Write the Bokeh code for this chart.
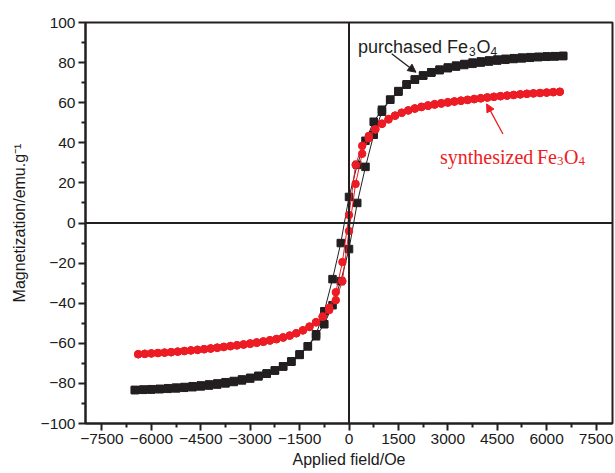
from bokeh.plotting import figure
from bokeh.models import Range1d, FixedTicker, Span, Label, Arrow, NormalHead, CustomJSTickFormatter
from bokeh.embed import file_html
from bokeh.resources import INLINE

# ---------------- data ----------------
black_H = [-6500, -6250, -6000, -5750, -5500, -5250, -5000, -4750, -4500, -4250, -4000, -3750, -3500,
           -3250, -3000, -2750, -2500, -2250, -2000, -1750, -1500, -1250, -1000, -750, -500, -250, 0,
           250, 500, 750, 1000, 1250, 1500, 1750, 2000, 2250, 2500, 2750, 3000, 3250, 3500, 3750,
           4000, 4250, 4500, 4750, 5000, 5250, 5500, 5750, 6000, 6250, 6500]
# branch measured while field decreases (upper)
black_upper = [-83.3, -83.1, -82.9, -82.7, -82.4, -82.1, -81.8, -81.4, -81.0, -80.5, -80.0, -79.4, -78.8,
               -78.0, -77.2, -76.2, -75.0, -73.5, -71.6, -69.2, -65.8, -61.5, -55.5, -44.0, -28.0, -10.0, 13.0,
               29.0, 41.0, 50.5, 56.5, 61.5, 65.5, 69.0, 71.5, 73.6, 75.2, 76.5, 77.6, 78.5, 79.3, 80.0,
               80.6, 81.1, 81.5, 81.9, 82.2, 82.5, 82.7, 82.9, 83.1, 83.2, 83.3]
# branch measured while field increases (lower)
black_lower = [-83.3, -83.2, -83.1, -82.9, -82.7, -82.5, -82.2, -81.9, -81.5, -81.1, -80.6, -80.0, -79.3,
               -78.5, -77.6, -76.5, -75.2, -73.6, -71.5, -69.0, -65.5, -61.5, -56.5, -50.5, -41.0, -29.0, -13.0,
               10.0, 28.0, 44.0, 55.5, 61.5, 65.8, 69.2, 71.6, 73.5, 75.0, 76.2, 77.2, 78.0, 78.8, 79.4,
               80.0, 80.5, 81.0, 81.4, 81.8, 82.1, 82.4, 82.7, 82.9, 83.1, 83.3]

red_H = [-6400, -6200, -6000, -5800, -5600, -5400, -5200, -5000, -4800, -4600, -4400, -4200, -4000,
         -3800, -3600, -3400, -3200, -3000, -2800, -2600, -2400, -2200, -2000, -1800, -1600, -1400,
         -1200, -1000, -800, -600, -400, -200, 0, 200, 400, 600, 800, 1000, 1200, 1400, 1600, 1800,
         2000, 2200, 2400, 2600, 2800, 3000, 3200, 3400, 3600, 3800, 4000, 4200, 4400, 4600, 4800,
         5000, 5200, 5400, 5600, 5800, 6000, 6200, 6400]
red_upper = [-65.4, -65.2, -65.0, -64.8, -64.6, -64.4, -64.1, -63.8, -63.5, -63.2, -62.9, -62.5, -62.1,
             -61.7, -61.3, -60.9, -60.5, -60.0, -59.5, -59.0, -58.4, -57.8, -57.0, -56.1, -55.0, -53.6,
             -51.9, -49.6, -46.6, -42.3, -34.5, -19.5, 4.0, 29.0, 38.5, 43.4, 46.8, 49.4, 51.6, 53.5, 55.0,
             56.2, 57.2, 58.0, 58.7, 59.3, 59.8, 60.3, 60.7, 61.1, 61.5, 61.9, 62.3, 62.7, 63.0, 63.3,
             63.6, 63.9, 64.2, 64.5, 64.7, 64.9, 65.1, 65.3, 65.5]
red_lower = [-65.5, -65.3, -65.1, -64.9, -64.7, -64.5, -64.2, -63.9, -63.6, -63.3, -63.0, -62.7, -62.3,
             -61.9, -61.5, -61.1, -60.7, -60.3, -59.8, -59.3, -58.7, -58.0, -57.2, -56.2, -55.0, -53.5,
             -51.6, -49.4, -46.8, -43.4, -38.5, -29.0, -4.0, 19.5, 34.5, 42.3, 46.6, 49.6, 51.9, 53.6, 55.0,
             56.1, 57.0, 57.8, 58.4, 59.0, 59.5, 60.0, 60.5, 60.9, 61.3, 61.7, 62.1, 62.5, 62.9, 63.2,
             63.5, 63.8, 64.1, 64.4, 64.6, 64.8, 65.0, 65.2, 65.4]

x_ticks = [-7500, -6000, -4500, -3000, -1500, 0, 1500, 3000, 4500, 6000, 7500]
x_tick_labels = ["\u22127500", "\u22126000", "\u22124500", "\u22123000", "\u22121500", "0",
                 "1500", "3000", "4500", "6000", "7500"]
x_minor = [-8250, -6750, -5250, -3750, -2250, -750, 750, 2250, 3750, 5250, 6750]
y_ticks = [-100, -80, -60, -40, -20, 0, 20, 40, 60, 80, 100]
y_tick_labels = ["\u2212100", "\u221280", "\u221260", "\u221240", "\u221220", "0",
                 "20", "40", "60", "80", "100"]
y_minor = [-90, -70, -50, -30, -10, 10, 30, 50, 70, 90]

BLACK = "#231f20"
RED = "#ed1c24"
SANS = "Liberation Sans"
SERIF = "Liberation Serif"

p = figure(width=615, height=473, output_backend="svg", toolbar_location=None,
           x_range=Range1d(-8000, 8000), y_range=Range1d(-100, 100),
           min_border_left=85, min_border_right=3, min_border_top=22, min_border_bottom=50)
p.grid.visible = False
p.outline_line_color = BLACK
p.outline_line_width = 2
p.background_fill_color = "white"
p.border_fill_color = "white"

for ax, ticks, minor, labels in ((p.xaxis[0], x_ticks, x_minor, x_tick_labels),
                                 (p.yaxis[0], y_ticks, y_minor, y_tick_labels)):
    ax.ticker = FixedTicker(ticks=ticks, minor_ticks=minor)
    ax.formatter = CustomJSTickFormatter(args=dict(vals=ticks, labs=labels),
                                         code="const i = vals.indexOf(tick); return i >= 0 ? labs[i] : '';")
    ax.axis_line_width = 2
    ax.axis_line_color = BLACK
    ax.major_tick_line_color = BLACK
    ax.minor_tick_line_color = BLACK
    ax.major_tick_line_width = 2
    ax.minor_tick_line_width = 2
    ax.major_tick_in = 0
    ax.major_tick_out = 7
    ax.minor_tick_in = 0
    ax.minor_tick_out = 4
    ax.major_label_text_font = SANS
    ax.major_label_text_font_size = "15.5px"
    ax.major_label_text_color = "#1a1a1a"

p.xaxis.major_label_standoff = 3
p.yaxis.major_label_standoff = 3
p.xaxis.axis_label = "Applied field/Oe"
p.yaxis.axis_label = "Magnetization/emu.g\u207b\u00b9"
for ax in (p.xaxis[0], p.yaxis[0]):
    ax.axis_label_text_font = SANS
    ax.axis_label_text_font_size = "16px"
    ax.axis_label_text_font_style = "normal"
    ax.axis_label_text_color = "#1a1a1a"
p.xaxis.axis_label_standoff = 4
p.yaxis.axis_label_standoff = 10

# zero lines
p.add_layout(Span(location=0, dimension="width", line_color=BLACK, line_width=2))
p.add_layout(Span(location=0, dimension="height", line_color=BLACK, line_width=2))

# purchased loop
bx = black_H[::-1] + black_H
by = black_upper[::-1] + black_lower
p.line(bx, by, line_color=BLACK, line_width=1)
p.scatter(bx, by, marker="square", size=7.5, fill_color=BLACK, line_color=BLACK)

# synthesized loop
rx = red_H[::-1] + red_H
ry = red_upper[::-1] + red_lower
p.line(rx, ry, line_color=RED, line_width=1)
p.scatter(rx, ry, marker="circle", size=7.5, fill_color=RED, line_color=RED)

def lab(x, y, text, font, size, color, xo=0, yo=0, align="left", baseline="alphabetic"):
    p.add_layout(Label(x=x, y=y, text=text, x_offset=xo, y_offset=yo,
                       text_font=font, text_font_size=size, text_color=color,
                       text_align=align, text_baseline=baseline))

lab(273, 87.7, "purchased Fe", SANS, "18px", BLACK)
lab(273, 87.7, "3", SANS, "12px", BLACK, xo=111, yo=-4)
lab(273, 87.7, "O", SANS, "18px", BLACK, xo=118.5)
lab(273, 87.7, "4", SANS, "12px", BLACK, xo=132.5, yo=-4)

lab(2762, 33.1, "synthesized", SERIF, "20px", RED)
lab(2762, 33.1, "Fe", SERIF, "20px", RED, xo=97)
lab(2762, 33.1, "3", SERIF, "13px", RED, xo=117, yo=-4)
lab(2762, 33.1, "O", SERIF, "20px", RED, xo=124)
lab(2762, 33.1, "4", SERIF, "13px", RED, xo=138.5, yo=-4)

p.add_layout(Arrow(x_start=1296, y_start=84.4, x_end=2033, y_end=75.2, line_color=BLACK, line_width=1.3,
                   end=NormalHead(size=8, fill_color=BLACK, line_color=BLACK)))
p.add_layout(Arrow(x_start=4674, y_start=44.4, x_end=4179, y_end=59.4, line_color=RED, line_width=1.3,
                   end=NormalHead(size=8, fill_color=RED, line_color=RED)))

open("out.html", "w").write(file_html(p, INLINE))
